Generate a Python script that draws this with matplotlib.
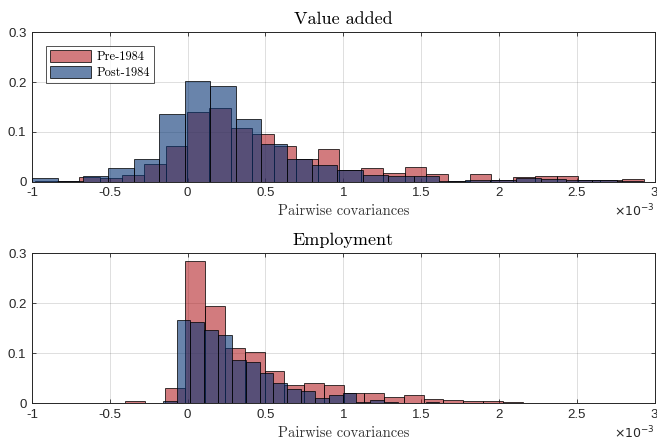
import numpy as np
import matplotlib
matplotlib.use("Agg")
import matplotlib.pyplot as plt

# ---- histogram data (probability per bin), x in units of 1e-3 ----
va_pre_edges = [-0.980, -0.841, -0.701, -0.561, -0.421, -0.282, -0.142, -0.003,
                0.137, 0.277, 0.416, 0.556, 0.696, 0.835, 0.975, 1.115, 1.254,
                1.394, 1.534, 1.673, 1.813, 1.952, 2.092, 2.232, 2.371, 2.511,
                2.650, 2.790, 2.930]
va_pre = [0.002, 0.002, 0.010, 0.008, 0.0134, 0.035, 0.0717, 0.140, 0.147,
          0.108, 0.095, 0.072, 0.045, 0.0657, 0.0235, 0.027, 0.018, 0.029,
          0.016, 0.002, 0.0155, 0.004, 0.009, 0.0115, 0.0115, 0.003, 0.003,
          0.0055]

va_post_edges = [-0.999, -0.836, -0.672, -0.509, -0.345, -0.182, -0.018, 0.145,
                 0.309, 0.472, 0.636, 0.799, 0.963, 1.126, 1.290, 1.453, 1.617,
                 1.780, 1.944, 2.107, 2.271, 2.434, 2.598, 2.761, 2.925]
va_post = [0.0068, 0.002, 0.012, 0.027, 0.0456, 0.1366, 0.203, 0.193, 0.1265,
           0.0757, 0.045, 0.0335, 0.0235, 0.0134, 0.012, 0.0115, 0.002, 0.004,
           0.004, 0.008, 0.005, 0.004, 0.003, 0.001]

emp_pre_edges = [-0.400, -0.272, -0.144, -0.017, 0.111, 0.239, 0.366, 0.494,
                 0.622, 0.750, 0.877, 1.005, 1.133, 1.260, 1.388, 1.516, 1.643,
                 1.771, 1.899, 2.026, 2.154]
emp_pre = [0.0035, 0.0, 0.031, 0.285, 0.194, 0.111, 0.1016, 0.0635, 0.0367,
           0.040, 0.0367, 0.0194, 0.0194, 0.0114, 0.0154, 0.0087, 0.006, 0.004,
           0.0043, 0.0027]

emp_post_edges = [-0.160, -0.071, 0.018, 0.107, 0.196, 0.285, 0.373, 0.462,
                  0.551, 0.640, 0.729, 0.818, 0.907, 0.996, 1.085, 1.174, 1.263,
                  1.352, 1.440, 1.529, 1.618]
emp_post = [0.005, 0.166, 0.163, 0.146, 0.1356, 0.0855, 0.082, 0.0595, 0.040,
            0.0275, 0.0234, 0.0094, 0.0154, 0.0194, 0.003, 0.0054, 0.003, 0.0,
            0.0, 0.002]

panel_titles = ["Value added", "Employment"]
series_labels = ["Pre-1984", "Post-1984"]
x_ticks = [-1, -0.5, 0, 0.5, 1, 1.5, 2, 2.5, 3]
x_ticklabels = ["-1", "-0.5", "0", "0.5", "1", "1.5", "2", "2.5", "3"]
y_ticks = [0, 0.1, 0.2, 0.3]
y_ticklabels = ["0", "0.1", "0.2", "0.3"]

RED = (0.68, 0.06, 0.08, 0.55)
BLUE = (0.02, 0.20, 0.45, 0.60)
EDGE = (0.0, 0.0, 0.0, 0.75)
AXCOL = (0.15, 0.15, 0.15)
SERIF = "cmr10"
SANS = "Liberation Sans"

fig = plt.figure(figsize=(6.57, 4.42), dpi=100)
axes = [fig.add_axes([0.0487, 0.589, 0.9475, 0.338]),
        fig.add_axes([0.0487, 0.0882, 0.9475, 0.3387])]

panels = [(va_pre_edges, va_pre, va_post_edges, va_post),
          (emp_pre_edges, emp_pre, emp_post_edges, emp_post)]

for ax, title, (pe, pv, qe, qv) in zip(axes, panel_titles, panels):
    ax.hist(pe[:-1], bins=pe, weights=pv, facecolor=RED, edgecolor=EDGE,
            linewidth=0.7, label=series_labels[0], zorder=2)
    ax.hist(qe[:-1], bins=qe, weights=qv, facecolor=BLUE, edgecolor=EDGE,
            linewidth=0.7, label=series_labels[1], zorder=3)
    ax.set_xlim(-1, 3)
    ax.set_ylim(0, 0.3)
    ax.set_xticks(x_ticks)
    ax.set_xticklabels(x_ticklabels, fontfamily=SANS, fontsize=9.5, color=AXCOL)
    ax.set_yticks(y_ticks)
    ax.set_yticklabels(y_ticklabels, fontfamily=SANS, fontsize=9.5, color=AXCOL)
    ax.tick_params(direction="in", length=3, width=0.6, colors=AXCOL,
                   top=True, right=True, pad=4)
    ax.grid(True, color=AXCOL, alpha=0.15, linewidth=0.7, zorder=0)
    ax.set_axisbelow(True)
    for s in ax.spines.values():
        s.set_color(AXCOL)
        s.set_linewidth(0.7)
    ax.set_title(title, fontfamily=SERIF, fontsize=13, color="black", pad=6)
    ax.set_xlabel("Pairwise covariances", fontfamily=SERIF, fontsize=10.5,
                  color=(0.2, 0.2, 0.2), labelpad=4)
    ax.text(1.0, -0.255, r"$\times10^{-3}$", transform=ax.transAxes,
            ha="right", va="bottom", fontsize=9, color=AXCOL,
            fontfamily=SANS)

leg = axes[0].legend(loc="upper left", bbox_to_anchor=(0.022, 0.91),
                     prop={"family": SERIF, "size": 9}, frameon=True,
                     fancybox=False, edgecolor=AXCOL, handlelength=3.3,
                     handleheight=1.1, handletextpad=0.4, borderpad=0.35,
                     labelspacing=0.2, borderaxespad=0.0)
leg.get_frame().set_linewidth(0.7)

fig.savefig("out.png", dpi=100)
